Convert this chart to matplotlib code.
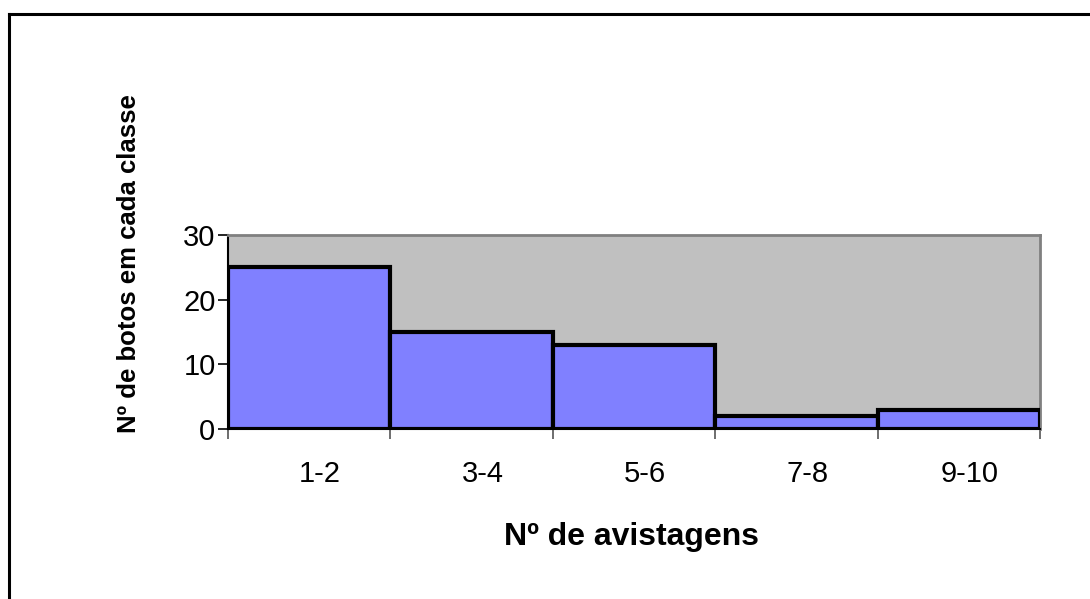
import matplotlib
matplotlib.use("Agg")
import matplotlib.pyplot as plt
import matplotlib.transforms as mtransforms
from matplotlib.lines import Line2D
import numpy as np

categories = ["1-2", "3-4", "5-6", "7-8", "9-10"]
counts = [25, 15, 13, 2, 3]
y_ticks = [0, 10, 20, 30]

plt.rcParams["font.family"] = ["Liberation Sans", "DejaVu Sans"]

W, H = 1090, 599
fig = plt.figure(figsize=(W / 100, H / 100), dpi=100)
fig.patch.set_facecolor("white")

# open frame around the chart area (top and left edges visible)
fig.add_artist(Line2D([8.5 / W, 1.0], [1 - 13.5 / H, 1 - 13.5 / H],
                      transform=fig.transFigure, color="black", lw=2.2))
fig.add_artist(Line2D([8.5 / W, 8.5 / W], [1 - 13.5 / H, 0.0],
                      transform=fig.transFigure, color="black", lw=2.2))

left, right, top, bottom = 228, 1040, 235, 429
ax = fig.add_axes([left / W, 1 - bottom / H, (right - left) / W, (bottom - top) / H])
ax.set_facecolor("#C0C0C0")

x = np.arange(len(categories))
ax.bar(x, counts, width=1.0, color="#8080FF", edgecolor="black", linewidth=3,
       zorder=3)

ax.set_xlim(-0.5, len(categories) - 0.5)
ax.set_ylim(0, 30)
ax.set_yticks(y_ticks)
ax.set_yticklabels([str(v) for v in y_ticks], fontsize=21)
ax.set_xticks(x)
ax.set_xticklabels(categories, fontsize=21)
ax.tick_params(axis="x", length=0, pad=22)
ax.tick_params(axis="y", length=7, width=1.2, color="black", pad=2)

# category labels sit slightly right of each bar centre
shift = mtransforms.ScaledTranslation(11 / 100, 0, fig.dpi_scale_trans)
for lbl in ax.get_xticklabels():
    lbl.set_transform(lbl.get_transform() + shift)

# category boundary ticks below the axis
ax.set_xticks(np.arange(-0.5, len(categories)), minor=True)
ax.tick_params(axis="x", which="minor", length=7, width=1.2, color="#555555")

for side in ("top", "right"):
    ax.spines[side].set_color("#808080")
    ax.spines[side].set_linewidth(2)
ax.spines["left"].set_color("black")
ax.spines["left"].set_linewidth(1.5)
ax.spines["bottom"].set_color("black")
ax.spines["bottom"].set_linewidth(1.5)

ax.set_xlabel("Nº de avistagens", fontsize=23, fontweight="bold")
ax.xaxis.set_label_coords((631 - left) / (right - left), -(537 - bottom) / (bottom - top))
ax.xaxis.label.set_verticalalignment("center")
ax.set_ylabel("Nº de botos em cada classe", fontsize=18.5, fontweight="bold")
ax.yaxis.set_label_coords((129 - left) / (right - left), (bottom - 264) / (bottom - top))
ax.yaxis.label.set_verticalalignment("center")

fig.savefig("out.png", dpi=100, facecolor="white")
